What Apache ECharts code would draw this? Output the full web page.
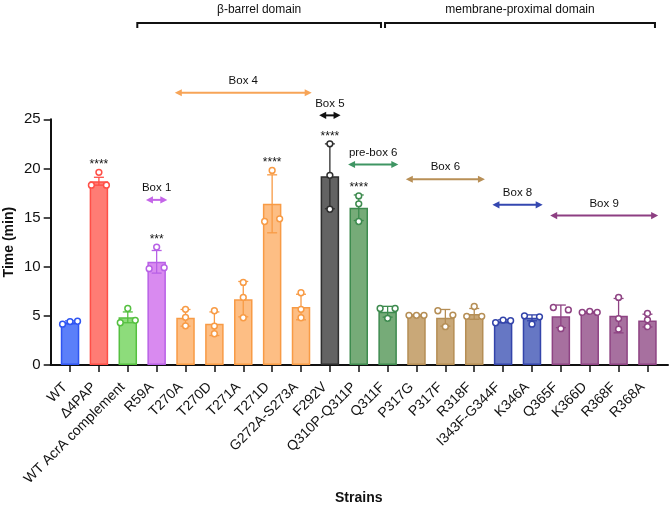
<!DOCTYPE html>
<html><head><meta charset="utf-8">
<script src="https://cdn.jsdelivr.net/npm/echarts@6/dist/echarts.min.js"></script>
<style>html,body{margin:0;padding:0;background:#fff}#c{width:669px;height:505px}</style>
</head><body><div id="c"></div>
<script>
// ---------- DATA ----------
const strains = ['WT','Δ4PAP','WT AcrA complement','R59A','T270A','T270D','T271A','T271D','G272A-S273A','F292V',
  'Q310P-Q311P','Q311F','P317G','P317F','R318F','I343F-G344F','K346A','Q365F','K366D','R368F','R368A'];
const meanTime = [4.34,18.7,4.85,10.5,4.8,4.2,6.7,16.4,5.9,19.2,16.0,5.42,5.05,4.8,5.2,4.45,4.8,4.95,5.38,5.02,4.52];
const errTime  = [0.15,0.4,0.55,1.15,0.85,1.2,1.8,2.95,1.3,3.3,1.3,0.55,0.06,0.85,0.55,0.15,0.3,1.15,0.06,1.75,0.65];
const replicates = [
  [4.15,4.42,4.45],[18.3,19.6,18.3],[4.3,5.75,4.55],[9.8,12.0,9.9],[5.66,4.85,3.99],[5.52,3.96,3.18],
  [8.4,6.88,4.81],[14.6,19.8,14.87],[7.35,5.66,4.81],[22.5,19.3,15.85],[17.2,16.4,14.6],[5.75,4.75,5.75],
  [5.05,5.05,5.05],[5.52,3.9,5.08],[4.95,5.95,4.95],[4.3,4.57,4.5],[5.0,4.15,4.9],[5.85,3.7,5.6],
  [5.35,5.45,5.35],[6.88,4.72,3.65],[5.25,4.6,3.9]];
const sigStrains = ['Δ4PAP','R59A','T271D','F292V','Q310P-Q311P'];
const sigLabels  = ['****','***','****','****','****'];
const boxLabels = ['Box 4','Box 1','Box 5','pre-box 6','Box 6','Box 8','Box 9'];
const boxFrom   = ['T270A','R59A','F292V','Q310P-Q311P','P317G','I343F-G344F','Q365F'];
const boxTo     = ['G272A-S273A','R59A','F292V','Q311F','R318F','K346A','R368A'];
const boxLevel  = [27.7,16.8,25.4,20.4,18.9,16.3,15.2];
const domainLabels = ['β-barrel domain','membrane-proximal domain'];
const domainFrom   = [2.33,10.91];
const domainTo     = [10.77,20.26];
const domainLevel  = [34.8,34.8];
const yMin = 0, yMax = 25, yStep = 5;

// ---------- STYLE ----------
const fills   = ['#5b7ff9','#ff7c74','#8ddc7b','#d98af0','#fdbe84','#fdbe84','#fdbe84','#fdbe84','#fdbe84','#636363',
  '#76ab78','#76ab78','#c9a878','#c9a878','#c9a878','#6677c4','#6677c4','#a7709f','#a7709f','#a7709f','#a7709f'];
const borders = ['#2f55f2','#ff4f47','#55c040','#b861e6','#f89b45','#f89b45','#f89b45','#f89b45','#f89b45','#2e2e2e',
  '#3e8b4f','#3e8b4f','#b58e55','#b58e55','#b58e55','#3344aa','#3344aa','#8e4383','#8e4383','#8e4383','#8e4383'];
const boxColors = ['#f7a457','#c465e8','#111111','#3f9563','#b88f56','#3447b0','#8d3f82'];
const FONT = 'Liberation Sans, Arial, sans-serif';

const chart = echarts.init(document.getElementById('c'), null, {renderer:'canvas'});

function xAt(api, idxFloat, v){
  const base = Math.floor(idxFloat);
  const p = api.coord([base, v]);
  const band = api.size([1,0])[0];
  return [p[0] + (idxFloat - base)*band, p[1]];
}

const option = {
  animation:false,
  backgroundColor:'#fff',
  grid:[
    {left:55.6, right:7.1, top:119.3, bottom:140, containLabel:false, outerBoundsMode:'none'},
    {left:50.7, right:1, top:119.3, bottom:140, containLabel:false, outerBoundsMode:'none'}
  ],
  xAxis:[
    {type:'category', gridIndex:0, data:strains,
     name:'Strains', nameLocation:'middle', nameGap:126, nameMoveOverlap:false,
     nameTextStyle:{fontFamily:FONT, fontSize:14, fontWeight:'bold', color:'#111'},
     axisLine:{show:false},
     axisTick:{show:true, alignWithLabel:true, length:7, lineStyle:{color:'#111', width:1.5}},
     axisLabel:{rotate:45, fontFamily:FONT, fontSize:14, color:'#111', margin:15, padding:[0,7,0,0], interval:0}},
    {type:'value', gridIndex:1, min:0, max:1, show:true,
     axisLine:{show:true, onZero:false, lineStyle:{color:'#111', width:2}},
     axisTick:{show:false}, axisLabel:{show:false}, splitLine:{show:false}}
  ],
  yAxis:[
    {type:'value', gridIndex:0, min:yMin, max:yMax, interval:yStep, show:false, splitLine:{show:false}},
    {type:'value', gridIndex:1, min:yMin, max:yMax, interval:yStep,
     name:'Time (min)', nameLocation:'middle', nameGap:35, nameRotate:90, nameMoveOverlap:false,
     nameTextStyle:{fontFamily:FONT, fontSize:14, fontWeight:'bold', color:'#111'},
     axisLine:{show:true, lineStyle:{color:'#111', width:2}},
     axisTick:{show:true, length:7, lineStyle:{color:'#111', width:1.5}},
     axisLabel:{fontFamily:FONT, fontSize:15, color:'#111', margin:10},
     splitLine:{show:false}}
  ],
  series:[
    {type:'bar', xAxisIndex:0, yAxisIndex:0, barWidth:18.5, z:2,
     data: meanTime.map((v,i)=>({value:v, itemStyle:{color:fills[i], borderColor:borders[i], borderWidth:1.5}}))},
    {type:'custom', xAxisIndex:0, yAxisIndex:0, z:3, encode:{x:0,y:1},
     data: meanTime.map((v,i)=>[i, v, errTime[i]]),
     renderItem:(params, api)=>{
       const i = api.value(0), m = api.value(1), e = api.value(2);
       const top = api.coord([i, m+e]), bot = api.coord([i, m-e]);
       const st = {stroke:borders[i], lineWidth:1.3};
       return {type:'group', children:[
         {type:'line', shape:{x1:top[0], y1:top[1], x2:bot[0], y2:bot[1]}, style:st},
         {type:'line', shape:{x1:top[0]-5, y1:top[1], x2:top[0]+5, y2:top[1]}, style:st},
         {type:'line', shape:{x1:bot[0]-5, y1:bot[1], x2:bot[0]+5, y2:bot[1]}, style:st}
       ]};
     }},
    {type:'custom', xAxisIndex:0, yAxisIndex:0, z:4, encode:{x:0,y:1},
     data: meanTime.map((v,i)=>[i, v]),
     renderItem:(params, api)=>{
       const i = api.value(0);
       const vals = replicates[i];
       const cx = api.coord([i, 0])[0];
       const ys = vals.map(v=>api.coord([i, v])[1]);
       const order = ys.map((y,k)=>k).sort((a,b)=>ys[a]-ys[b]);
       const clusters = []; let cur = [order[0]];
       for (let k=1;k<order.length;k++){
         if (Math.abs(ys[order[k]]-ys[order[k-1]]) < 5.5) cur.push(order[k]);
         else { clusters.push(cur); cur=[order[k]]; }
       }
       clusters.push(cur);
       const d = 7.5, children = [];
       clusters.forEach(c=>{
         c.sort((a,b)=>a-b);
         const n = c.length;
         c.forEach((k,j)=>{
           const off = n===2 ? (j===0?-d:d) : (j-(n-1)/2)*d;
           children.push({type:'circle', shape:{cx:cx+off, cy:ys[k], r:2.9},
             style:{fill:'#fff', stroke:borders[i], lineWidth:1.5}});
         });
       });
       return {type:'group', children};
     }},
    {type:'custom', xAxisIndex:0, yAxisIndex:0, z:5, encode:{x:0,y:1},
     data: sigStrains.map(s=>{const i=strains.indexOf(s); return [i, Math.max(meanTime[i]+errTime[i], ...replicates[i])];}),
     renderItem:(params, api)=>{
       const p = api.coord([api.value(0), api.value(1)]);
       return {type:'text', x:p[0], y:p[1]-7.5,
         style:{text:sigLabels[params.dataIndex], fontFamily:FONT, fontSize:12, fill:'#111', align:'center', verticalAlign:'middle'}};
     }},
    {type:'custom', xAxisIndex:0, yAxisIndex:0, z:5, encode:{x:0,y:2},
     data: boxLabels.map((l,k)=>[strains.indexOf(boxFrom[k]), strains.indexOf(boxTo[k]), boxLevel[k]]),
     renderItem:(params, api)=>{
       const k = params.dataIndex;
       const a = api.coord([api.value(0), api.value(2)]);
       const b = api.coord([api.value(1), api.value(2)]);
       const band = api.size([1,0])[0];
       const x1 = a[0]-0.37*band, x2 = b[0]+0.37*band, y = a[1];
       const col = boxColors[k];
       const hl = 7, hw = 3.6;
       return {type:'group', children:[
         {type:'line', shape:{x1:x1+3, y1:y, x2:x2-3, y2:y}, style:{stroke:col, lineWidth:2}},
         {type:'polygon', shape:{points:[[x1,y],[x1+hl,y-hw],[x1+hl,y+hw]]}, style:{fill:col}},
         {type:'polygon', shape:{points:[[x2,y],[x2-hl,y-hw],[x2-hl,y+hw]]}, style:{fill:col}},
         {type:'text', x:(x1+x2)/2, y:y-12, style:{text:boxLabels[k], fontFamily:FONT, fontSize:11.5, fill:'#111', align:'center', verticalAlign:'middle'}}
       ]};
     }},
    {type:'custom', xAxisIndex:0, yAxisIndex:0, z:5, encode:{x:0,y:2},
     data: domainLabels.map((l,k)=>[domainFrom[k], domainTo[k], domainLevel[k]]),
     renderItem:(params, api)=>{
       const k = params.dataIndex;
       const a = xAt(api, domainFrom[k], domainLevel[k]);
       const b = xAt(api, domainTo[k], domainLevel[k]);
       const y = a[1];
       const st = {stroke:'#111', lineWidth:2};
       return {type:'group', children:[
         {type:'polyline', shape:{points:[[a[0],y+5],[a[0],y],[b[0],y],[b[0],y+5]]}, style:Object.assign({fill:null}, st)},
         {type:'text', x:(a[0]+b[0])/2, y:y-13.7, style:{text:domainLabels[k], fontFamily:FONT, fontSize:12, fill:'#111', align:'center', verticalAlign:'middle'}}
       ]};
     }}
  ]
};
chart.setOption(option);
</script>
</body></html>
